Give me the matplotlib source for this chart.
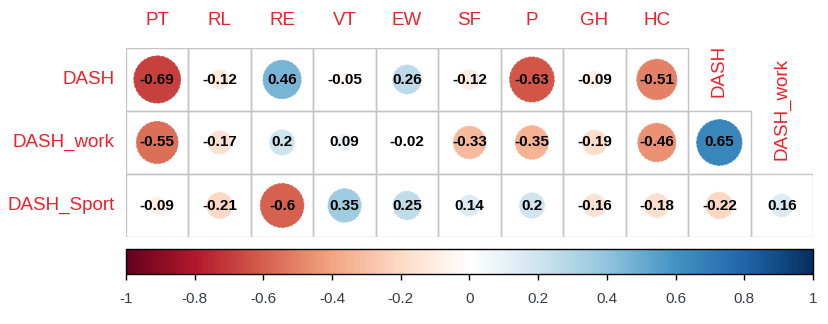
import matplotlib
matplotlib.use("Agg")
import matplotlib.pyplot as plt
import numpy as np
from matplotlib.colors import LinearSegmentedColormap, Normalize
from matplotlib.patches import Rectangle, Circle
from matplotlib.cm import ScalarMappable

plt.rcParams['font.family'] = ['Liberation Sans', 'DejaVu Sans']

col_labels = ["PT", "RL", "RE", "VT", "EW", "SF", "P", "GH", "HC", "DASH", "DASH_work"]
row_labels = ["DASH", "DASH_work", "DASH_Sport"]
dash_vals = [-0.69, -0.12, 0.46, -0.05, 0.26, -0.12, -0.63, -0.09, -0.51]
dash_work_vals = [-0.55, -0.17, 0.2, 0.09, -0.02, -0.33, -0.35, -0.19, -0.46, 0.65]
dash_sport_vals = [-0.09, -0.21, -0.6, 0.35, 0.25, 0.14, 0.2, -0.16, -0.18, -0.22, 0.16]
rows_vals = [dash_vals, dash_work_vals, dash_sport_vals]
cbar_ticks = [-1, -0.8, -0.6, -0.4, -0.2, 0, 0.2, 0.4, 0.6, 0.8, 1]
cbar_ticklabels = ["-1", "-0.8", "-0.6", "-0.4", "-0.2", "0", "0.2", "0.4", "0.6", "0.8", "1"]

rdbu = ["#67001F", "#B2182B", "#D6604D", "#F4A582", "#FDDBC7", "#FFFFFF",
        "#D1E5F0", "#92C5DE", "#4393C3", "#2166AC", "#053061"]
cmap = LinearSegmentedColormap.from_list("corr", rdbu, N=200)
norm = Normalize(-1, 1)

W, H = 829, 324
fig = plt.figure(figsize=(W / 100, H / 100), dpi=100)
ax = fig.add_axes([126 / W, (H - 237) / H, 687 / W, 189 / H])
ax.set_xlim(0, len(col_labels))
ax.set_ylim(len(row_labels), 0)
ax.axis('off')

label_red = '#F0202A'
grid_col = '#C4C4C4'

for i, vals in enumerate(rows_vals):
    for j, v in enumerate(vals):
        ax.add_patch(Rectangle((j, i), 1, 1, fill=False, edgecolor=grid_col, lw=1.0, zorder=1))
        r = 0.45 * np.sqrt(abs(v))
        ax.add_patch(Circle((j + 0.5, i + 0.5), r, facecolor=cmap(norm(v)),
                            edgecolor=cmap(norm(v)), lw=0.6, ls='--', zorder=2))
        txt = f"{v:g}"
        ax.text(j + 0.5, i + 0.5, txt, ha='center', va='center', fontsize=11,
                fontweight='bold', color='black', zorder=3)
    ax.text(-0.18, i + 0.5, row_labels[i], ha='right', va='center', fontsize=13.5,
            color=label_red, clip_on=False)

n_top = len(dash_vals)
for j in range(n_top):
    ax.text(j + 0.5, -0.44, col_labels[j], ha='center', va='center', fontsize=13.5,
            color=label_red, clip_on=False)
for k, j in enumerate(range(n_top, len(col_labels))):
    ax.text(j + 0.5, (k + 1) - 0.22, col_labels[j], ha='center', va='bottom',
            rotation=90, fontsize=13.5, color=label_red, clip_on=False)

cax = fig.add_axes([126 / W, (H - 274) / H, 687 / W, 25 / H])
cb = fig.colorbar(ScalarMappable(norm=norm, cmap=cmap), cax=cax, orientation='horizontal')
cb.set_ticks(cbar_ticks)
cb.set_ticklabels(cbar_ticklabels)
cb.outline.set_edgecolor('black')
cb.outline.set_linewidth(1.0)
cax.tick_params(axis='x', direction='out', length=4, width=1, colors='black',
                labelsize=11, labelcolor='#3A3A48', pad=9)

fig.savefig("out.png", dpi=100)
